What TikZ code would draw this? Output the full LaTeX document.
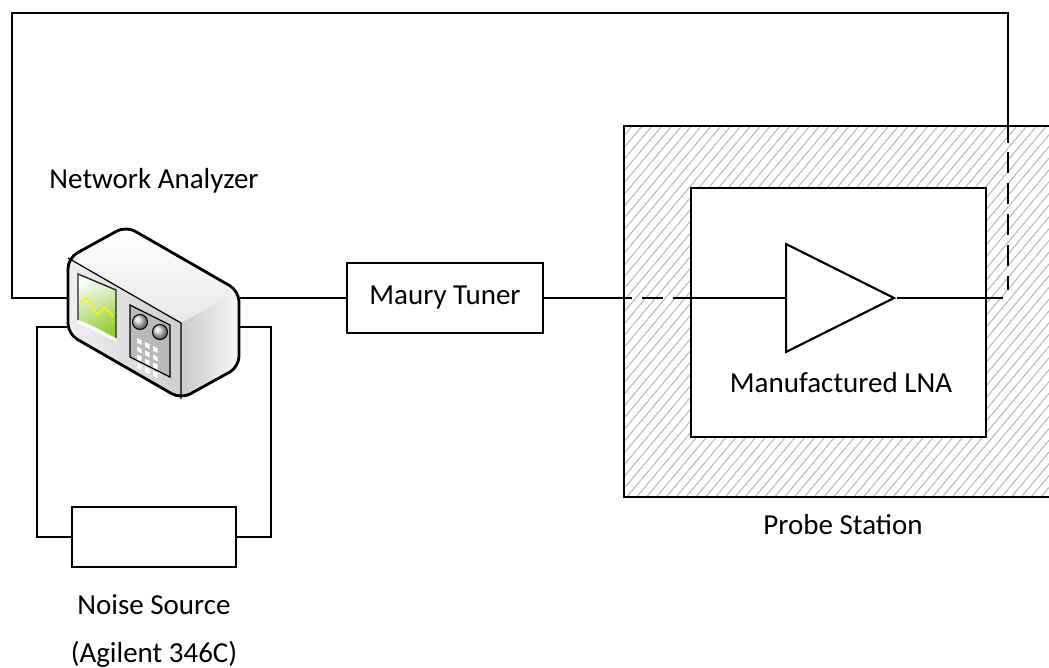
\documentclass[tikz,border=0pt]{standalone}
\usepackage{fontspec}
\setmainfont{Carlito}
\usepackage{xcolor}
\usepackage{tikz}
\usetikzlibrary{shapes,arrows,positioning,calc,patterns.meta}

\definecolor{screengreen}{RGB}{150,205,60}
\definecolor{hatchgray}{RGB}{185,185,185}

\begin{document}
\begin{tikzpicture}[
    x=0.02cm, y=-0.02cm,
    box/.style={rectangle, draw, line width=1.2pt, fill=white, inner sep=0pt},
    devlabel/.style={anchor=base, inner sep=0pt, font=\fontsize{16.5}{20}\selectfont},
    wire/.style={line width=1.1pt},
    dashwire/.style={wire, dash pattern=on 0.42cm off 0.2cm},
    station/.style={rectangle, draw, line width=1.2pt, inner sep=0pt, pattern={Lines[angle=50, distance=4.3pt, line width=0.6pt]}, pattern color=hatchgray}
]
\clip (0,0) rectangle (1049,668);

% probe station with the LNA on it
\node[station, minimum width=8.92cm, minimum height=7.42cm] (probe) at (847,311.5) {};
\node[box, minimum width=5.9cm, minimum height=4.98cm] (lna) at (838.5,312.5) {};
\node[isosceles triangle, isosceles triangle stretches, draw, line width=1.2pt, fill=white, inner sep=0pt, minimum width=2.16cm, minimum height=2.16cm, anchor=lower side] (amp) at (785,298) {};
\node[devlabel] (lnatext) at (841,393) {Manufactured LNA};
\node[devlabel] (probetext) at (843,535) {Probe Station};

% tuner and noise source
\node[box, minimum width=3.92cm, minimum height=1.4cm, font=\fontsize{16.5}{20}\selectfont] (tuner) at (445,298) {Maury Tuner};
\node[box, minimum width=3.28cm, minimum height=1.2cm] (noise) at (154,537) {};
\node[devlabel] (noisetext) at (154,615) {Noise Source};
\node[devlabel] (agilent) at (154,663) {(Agilent 346C)};

% network analyzer
\node[inner sep=0pt, minimum width=3.46cm, minimum height=3.46cm] (na) at (153.5,312.5) {};
\node[devlabel] (natext) at (154,189) {Network Analyzer};

\coordinate (fa) at (68,258);
\coordinate (fb) at (181,323);
\coordinate (fc) at (181,399);
\coordinate (fd) at (68,334);
\coordinate (ba) at (126,226);
\coordinate (bb) at (239,291);
\coordinate (bc) at (239,367);

\begin{scope}
  \clip[rounded corners=6pt] (fa) -- (ba) -- (bb) -- (bc) -- (fc) -- (fd) -- cycle;
  \shade[top color=white, bottom color=gray!18] (fa) -- (ba) -- (bb) -- (fb) -- cycle;
  \shade[left color=gray!12, right color=gray!38] (fa) -- (fb) -- (fc) -- (fd) -- cycle;
  \shade[left color=gray!42, right color=gray!6] (fb) -- (bb) -- (bc) -- (fc) -- cycle;
\end{scope}
\draw[line width=0.7pt] (fa) -- (fb) -- (fc);
\draw[line width=1.6pt, rounded corners=6pt] (fa) -- (ba) -- (bb) -- (bc) -- (fc) -- (fd) -- cycle;

% screen
\shade[top color=green!3, bottom color=screengreen, shading angle=25] (78,274) -- (116,290) -- (116,338) .. controls (102,331) and (90,323) .. (78,320) -- cycle;
\draw[line width=0.8pt, gray!30!black] (78,320) -- (78,274) -- (116,290) -- (116,338);
\draw[white, line width=1.6pt] (78,322) .. controls (90,326) and (103,334) .. (116,340);
\draw[yellow, line width=0.9pt] (80,304) sin (86,298) cos (92,306) sin (98,314) cos (104,307) -- (113,316);

% keypad
\filldraw[fill=gray!55, draw=black, line width=0.7pt] (130,305) -- (170,325) -- (170,377) -- (130,357) -- cycle;
\shade[ball color=gray!35] (140,322) circle (7.5);
\draw[line width=0.6pt] (140,322) circle (7.5);
\shade[ball color=gray!35] (160,332) circle (7.5);
\draw[line width=0.6pt] (160,332) circle (7.5);
\foreach \i in {0,1,2}
  \foreach \j in {0,1,2,3}
    \fill[white] ({137+8*\i},{338+4*\i+8.3*\j}) -- ++(4.5,2.2) -- ++(0,4.8) -- ++(-4.5,-2.2) -- cycle;

% connections
\coordinate (topl) at (12,13);
\coordinate (topr) at (1008,13);
\coordinate (lnaout) at (1003,298);
\coordinate (lnatap) at (1008,290);
\coordinate (nsl) at (37,327);
\coordinate (nsr) at (271,327);

\draw[wire] (na.east |- tuner) -- (tuner.west);
\draw[wire] (tuner.east) -- (probe.west |- tuner);
\draw[dashwire, dash phase=0.26cm] (probe.west |- tuner) -- (lna.west |- tuner);
\draw[wire] (lna.west |- tuner) -- (amp.lower side);
\draw[wire] (amp.apex) -- (lnaout);
\draw[wire] (na.west |- tuner) -- (topl |- tuner) -- (topl) -- (topr) -- (probe.north -| topr);
\draw[dashwire, dash phase=0.08cm] (probe.north -| topr) -- (lnatap);

\draw[wire] (na.west |- nsl) -- (nsl) -- (nsl |- noise) -- (noise.west);
\draw[wire] (noise.east) -- (nsr |- noise) -- (nsr) -- (na.east |- nsr);

\end{tikzpicture}
\end{document}
